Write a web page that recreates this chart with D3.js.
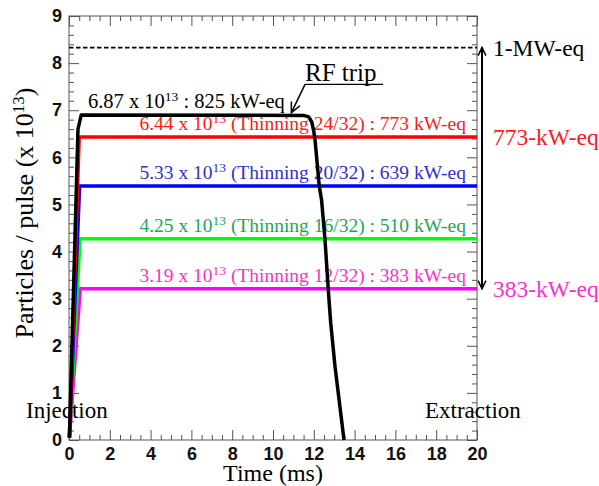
<!DOCTYPE html>
<html>
<head>
<meta charset="utf-8">
<title>Particles per pulse</title>
<script src="https://cdnjs.cloudflare.com/ajax/libs/d3/7.8.5/d3.min.js"></script>
<style>
	body { margin: 0; background: #fff; }
	.axis .tick text { font-family: "Liberation Sans", Arial, sans-serif; font-weight: bold; font-size: 18px; fill: #111; }
	.axis .tick line { stroke: #555; }
	.serif { font-family: "Liberation Serif", "DejaVu Serif", serif; }
	path.beam { fill: none; stroke-width: 3.5px; stroke-linejoin: round; }
</style>
</head>
<body>
<script>
// ticks
var xTicks = [0, 2, 4, 6, 8, 10, 12, 14, 16, 18, 20];
var yTicks = [0, 1, 2, 3, 4, 5, 6, 7, 8, 9];

// measured intensity (x 10^13) vs time (ms)
var fullBeam = [[0.02, 0.05], [0.44, 6.6], [0.6, 6.9], [11.5, 6.89], [11.75, 6.86], [11.9, 6.75],
	[12.0, 6.55], [12.06, 6.37], [12.27, 5.38], [12.38, 5.10], [12.55, 4.25], [12.71, 3.19],
	[12.83, 2.48], [13.04, 1.56], [13.28, 0.71], [13.48, 0.0]];
var thin24 = [[0.02, 0.05], [0.5, 6.43], [20, 6.43]];
var thin20 = [[0.02, 0.05], [0.52, 5.39], [20, 5.39]];
var thin16 = [[0.02, 0.05], [0.54, 4.27], [20, 4.27]];
var thin12 = [[0.02, 0.05], [0.55, 3.21], [20, 3.21]];
var oneMW = 8.33;

var labelHead = ["6.87 x 10", "6.44 x 10", "5.33 x 10", "4.25 x 10", "3.19 x 10"];
var labelTail = [" : 825 kW-eq", " (Thinning 24/32) : 773 kW-eq", " (Thinning 20/32) : 639 kW-eq",
	" (Thinning 16/32) : 510 kW-eq", " (Thinning 12/32) : 383 kW-eq"];
var sideLabels = ["1-MW-eq", "773-kW-eq", "383-kW-eq"];

var W = 599, H = 486;
var pLeft = 69, pRight = 477, pTop = 16, pBottom = 440;

var svg = d3.select("body").append("svg")
	.attr("width", W)
	.attr("height", H);

var x = d3.scaleLinear().domain([0, 20]).range([pLeft, pRight]);
var y = d3.scaleLinear().domain([0, 9]).range([pBottom, pTop]);

var xMinor = d3.range(0, 20.01, 0.5).filter(function(d) { return d % 2 !== 0; });
var yMinor = d3.range(0, 9.01, 0.2).map(function(d) { return +d.toFixed(1); })
	.filter(function(d) { return Math.abs(d - Math.round(d)) > 0.01; });

function addAxis(axis, tx, ty) {
	var g = svg.append("g")
		.attr("class", "axis")
		.attr("transform", "translate(" + tx + "," + ty + ")")
		.call(axis);
	g.select(".domain").remove();
	return g;
}

// bottom + left with labels
addAxis(d3.axisBottom(x).tickValues(xTicks).tickSize(-10).tickPadding(7), 0, pBottom);
addAxis(d3.axisBottom(x).tickValues(xMinor).tickSize(-5).tickFormat(""), 0, pBottom);
addAxis(d3.axisLeft(y).tickValues(yTicks).tickSize(-10).tickPadding(7), pLeft, 0);
addAxis(d3.axisLeft(y).tickValues(yMinor).tickSize(-5).tickFormat(""), pLeft, 0);
// mirrored ticks on top + right
addAxis(d3.axisTop(x).tickValues(xTicks).tickSize(-10).tickFormat(""), 0, pTop);
addAxis(d3.axisTop(x).tickValues(xMinor).tickSize(-5).tickFormat(""), 0, pTop);
addAxis(d3.axisRight(y).tickValues(yTicks).tickSize(-10).tickFormat(""), pRight, 0);
addAxis(d3.axisRight(y).tickValues(yMinor).tickSize(-5).tickFormat(""), pRight, 0);

svg.append("rect")
	.attr("x", pLeft).attr("y", pTop)
	.attr("width", pRight - pLeft).attr("height", pBottom - pTop)
	.attr("fill", "none").attr("stroke", "#555").attr("stroke-width", 1);

// 1 MW reference
svg.append("line")
	.attr("x1", x(0)).attr("x2", x(20))
	.attr("y1", y(oneMW)).attr("y2", y(oneMW))
	.attr("stroke", "black").attr("stroke-width", 1.8)
	.attr("stroke-dasharray", "4.5,2.5");

// annotations on each line
var seriesList = [fullBeam, thin24, thin20, thin16, thin12];
var textColors = ["#000000", "#ff1a1a", "#3030cc", "#20a855", "#ff30c8"];
var lineColors = ["#000000", "#ff0000", "#0000ff", "#00ff00", "#ff00ff"];
var labelStartMs = [0.93, 3.45, 3.45, 3.45, 3.45];

seriesList.forEach(function(s, i) {
	var level = s[s.length - 1][1];
	if (i === 0) level = s[3][1];
	var t = svg.append("text")
		.attr("class", "serif")
		.attr("x", x(labelStartMs[i]))
		.attr("y", y(level) - 7)
		.attr("fill", textColors[i])
		.style("font-size", i === 0 ? "20.5px" : "19.5px");
	t.append("tspan").text(labelHead[i]);
	t.append("tspan").attr("dy", -7).style("font-size", "13.5px").text("13");
	t.append("tspan").attr("dy", 7).text(labelTail[i]);
});

var line = d3.line()
	.x(function(d) { return x(d[0]); })
	.y(function(d) { return y(d[1]); });

[4, 3, 2, 1, 0].forEach(function(i) {
	svg.append("path")
		.attr("class", "beam")
		.attr("d", line(seriesList[i]))
		.attr("stroke", lineColors[i]);
});

// RF trip note
var rfX = x(11.57), rfY = y(7.55);
svg.append("text")
	.attr("class", "serif")
	.attr("x", rfX).attr("y", rfY - 3)
	.style("font-size", "25px")
	.text("RF trip");
svg.append("line")
	.attr("x1", rfX).attr("x2", rfX + 78)
	.attr("y1", rfY).attr("y2", rfY)
	.attr("stroke", "black").attr("stroke-width", 1.2);

function arrowHead(tipX, tipY, fromX, fromY, len) {
	var a = Math.atan2(tipY - fromY, tipX - fromX);
	var spread = 0.45;
	var p = d3.path();
	p.moveTo(tipX - len * Math.cos(a - spread), tipY - len * Math.sin(a - spread));
	p.lineTo(tipX, tipY);
	p.lineTo(tipX - len * Math.cos(a + spread), tipY - len * Math.sin(a + spread));
	svg.append("path").attr("d", p.toString())
		.attr("fill", "none").attr("stroke", "black").attr("stroke-width", 1.5);
}

var tipX = x(10.9), tipY = y(6.95);
svg.append("line")
	.attr("x1", rfX).attr("y1", rfY)
	.attr("x2", tipX).attr("y2", tipY)
	.attr("stroke", "black").attr("stroke-width", 1.5);
arrowHead(tipX, tipY, rfX, rfY, 11);

// range arrow 1 MW -> 383 kW
var ax = pRight + 5;
var lowLevel = thin12[thin12.length - 1][1];
svg.append("line")
	.attr("x1", ax).attr("x2", ax)
	.attr("y1", y(oneMW)).attr("y2", y(lowLevel))
	.attr("stroke", "black").attr("stroke-width", 2);
arrowHead(ax, y(oneMW), ax, y(lowLevel), 9);
arrowHead(ax, y(lowLevel), ax, y(oneMW), 9);

var sideLevels = [oneMW, thin24[2][1], lowLevel];
var sideColors = ["#000000", "#ff1a1a", "#ff30c8"];
sideLabels.forEach(function(s, i) {
	svg.append("text")
		.attr("class", "serif")
		.attr("x", ax + 11)
		.attr("y", y(sideLevels[i]) + 8)
		.attr("fill", sideColors[i])
		.style("font-size", "23.5px")
		.text(s);
});

// injection / extraction
svg.append("text").attr("class", "serif")
	.attr("x", 26).attr("y", 418)
	.style("font-size", "23px").text("Injection");
svg.append("text").attr("class", "serif")
	.attr("x", 425).attr("y", 418)
	.style("font-size", "23px").text("Extraction");

// axis titles
svg.append("text").attr("class", "serif")
	.attr("x", (pLeft + pRight) / 2).attr("y", 481)
	.attr("text-anchor", "middle")
	.style("font-size", "24px").text("Time (ms)");

var yt = svg.append("text").attr("class", "serif")
	.attr("transform", "translate(33," + 213 + ") rotate(-90)")
	.attr("text-anchor", "middle")
	.style("font-size", "26px");
yt.append("tspan").text("Particles / pulse (x 10");
yt.append("tspan").attr("dy", -9).style("font-size", "17px").text("13");
yt.append("tspan").attr("dy", 9).text(")");
</script>
</body>
</html>
